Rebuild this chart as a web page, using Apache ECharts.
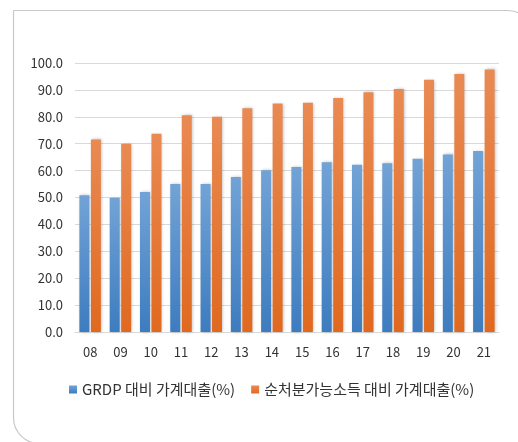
<!DOCTYPE html>
<html>
<head>
<meta charset="utf-8">
<script src="https://cdn.jsdelivr.net/npm/echarts@6/dist/echarts.min.js"></script>
<style>
  html, body { margin: 0; padding: 0; background: #fff; }
  #chart { width: 518px; height: 442px; }
</style>
</head>
<body>
<div id="chart"></div>
<script>
// 연도 (20xx)
var years = ["08", "09", "10", "11", "12", "13", "14", "15", "16", "17", "18", "19", "20", "21"];
// GRDP 대비 가계대출(%)
var grdpRatio = [50.8, 49.9, 52.0, 55.0, 55.0, 57.6, 60.1, 61.3, 63.1, 62.2, 62.7, 64.4, 66.0, 67.3];
// 순처분가능소득 대비 가계대출(%)
var incomeRatio = [71.6, 70.0, 73.7, 80.6, 80.0, 83.2, 84.9, 85.2, 87.0, 89.1, 90.3, 93.8, 95.9, 97.6];
var seriesNames = ["GRDP 대비 가계대출(%)", "순처분가능소득 대비 가계대출(%)"];

var font = "'Noto Sans CJK KR', 'Noto Sans', sans-serif";

function grad(top, bottom) {
  return new echarts.graphic.LinearGradient(0, 0, 0, 1, [
    { offset: 0, color: top },
    { offset: 1, color: bottom }
  ]);
}

var myChart = echarts.init(document.getElementById("chart"));
var option = {
  backgroundColor: "#fff",
  animation: false,
  textStyle: { fontFamily: font },
  graphic: [
    {
      type: "rect",
      left: 11, top: 8,
      shape: { width: 520, height: 433, r: [0, 26, 0, 26] },
      style: { fill: "none", stroke: "#c8c8c8", lineWidth: 1.2 },
      silent: true
    }
  ],
  grid: { left: 75, right: 19, top: 63, bottom: 110 },
  legend: {
    bottom: 40,
    left: 64,
    itemWidth: 8,
    itemHeight: 8,
    itemGap: 16,
    icon: "rect",
    textStyle: { fontSize: 15, color: "#333", fontFamily: font },
    data: seriesNames
  },
  xAxis: {
    type: "category",
    data: years,
    axisLine: { lineStyle: { color: "#d9d9d9" } },
    axisTick: { show: false },
    axisLabel: { color: "#333", fontSize: 13, margin: 14, fontFamily: font }
  },
  yAxis: {
    type: "value",
    min: 0,
    max: 100,
    interval: 10,
    axisLine: { show: false },
    axisTick: { show: false },
    splitLine: { lineStyle: { color: "#d9d9d9" } },
    axisLabel: {
      color: "#333", fontSize: 13, margin: 12, fontFamily: font,
      formatter: function (v) { return v.toFixed(1); }
    }
  },
  series: [
    {
      name: seriesNames[0],
      type: "bar",
      data: grdpRatio,
      barWidth: 10,
      barGap: "15%",
      itemStyle: {
        color: grad("#72a3d6", "#3d7cbf"),
        shadowColor: "rgba(0,0,0,0.25)", shadowBlur: 3, shadowOffsetX: 1
      }
    },
    {
      name: seriesNames[1],
      type: "bar",
      data: incomeRatio,
      barWidth: 10,
      itemStyle: {
        color: grad("#e98a53", "#e0691f"),
        shadowColor: "rgba(0,0,0,0.25)", shadowBlur: 3, shadowOffsetX: 1
      }
    }
  ]
};
myChart.setOption(option);
</script>
</body>
</html>
